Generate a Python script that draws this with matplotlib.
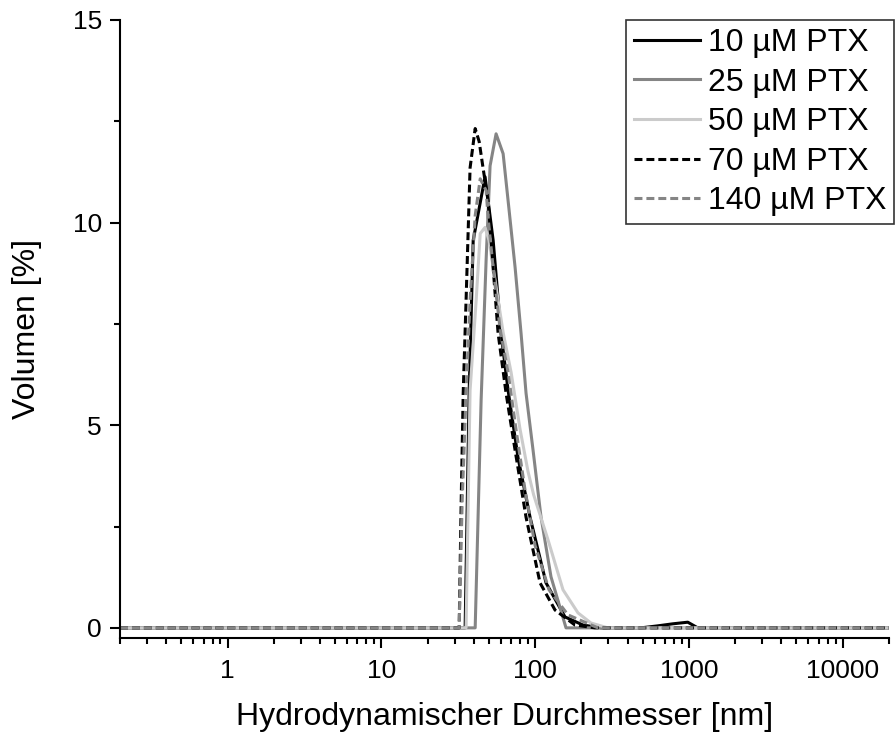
import numpy as np
import matplotlib
matplotlib.use("Agg")
import matplotlib.pyplot as plt
from matplotlib.ticker import FixedLocator, FixedFormatter, LogLocator, NullFormatter, MultipleLocator

plt.rcParams['font.family'] = ['Liberation Sans', 'DejaVu Sans']

# --- data (size in nm, volume in %) ---
d_10 = [0.2, 35.1, 37.3, 39.6, 47.3, 53.4, 60.1, 66.8, 77.6, 92.8, 117.9, 156.6, 205.0, 268.3,
        488, 629, 787, 985, 1144, 20000]
v_10 = [0, 0, 5.86, 9.56, 11.13, 9.56, 7.27, 5.86, 4.19, 2.73, 1.11, 0.27, 0.07, 0,
        0, 0.05, 0.10, 0.14, 0, 0]

d_25 = [0.2, 40.8, 44.6, 48.1, 51.0, 55.8, 62.0, 66.8, 74.2, 81.1, 87.4, 97.1, 109.4, 127.0, 159.0, 20000]
v_25 = [0, 0, 5.62, 9.11, 11.4, 12.19, 11.7, 10.54, 8.89, 7.27, 5.79, 4.38, 2.73, 1.26, 0, 0]

d_50 = [0.2, 35.6, 37.8, 41.4, 44.0, 47.3, 50.2, 55.0, 62.0, 69.9, 79.9, 90.1, 98.0, 121.5,
        152.0, 190.2, 231.0, 297.9, 20000]
v_50 = [0, 0, 5.86, 8.08, 9.73, 9.88, 9.56, 8.57, 7.29, 6.30, 4.90, 3.85, 3.28, 2.17,
        0.94, 0.37, 0.12, 0, 0]

d_70 = [0.2, 32.1, 33.1, 34.1, 35.6, 37.8, 40.8, 43.3, 45.9, 49.5, 53.4, 57.5, 64.8, 74.2,
        87.4, 107.8, 134.9, 181.8, 245.3, 20000]
v_70 = [0, 0, 3.15, 5.79, 8.08, 11.35, 12.32, 12.0, 11.35, 10.54, 8.89, 7.27, 5.79, 4.38,
        2.73, 1.11, 0.44, 0.07, 0, 0]

d_140 = [0.2, 32.1, 33.6, 35.6, 37.8, 40.8, 44.0, 48.1, 49.5, 53.4, 59.3, 66.8, 75.3, 86.1,
         100.0, 123.3, 163.8, 256.6, 20000]
v_140 = [0, 0, 3.15, 5.79, 8.08, 10.17, 11.08, 10.79, 10.12, 8.89, 7.36, 6.30, 4.88, 3.40,
         2.04, 0.94, 0.32, 0, 0]

labels = ['10 µM PTX', '25 µM PTX', '50 µM PTX', '70 µM PTX', '140 µM PTX']

fig = plt.figure(figsize=(8.96, 7.38), dpi=100)
ax = fig.add_axes([0.134, 0.1355, 0.858, 0.8375])

lw = 2.2
ax.plot(d_10, v_10, color='black', lw=lw, label=labels[0])
ax.plot(d_25, v_25, color='#858585', lw=lw, label=labels[1])
ax.plot(d_50, v_50, color='#cbcbcb', lw=lw, label=labels[2])
ax.plot(d_70, v_70, color='black', lw=lw, dashes=(2.6, 1.3), label=labels[3])
ax.plot(d_140, v_140, color='#858585', lw=lw, dashes=(2.6, 1.3), label=labels[4])

ax.set_xscale('log')
ax.set_xlim(0.2, 20000)
ax.set_ylim(-0.25, 15)

ax.xaxis.set_major_locator(FixedLocator([1, 10, 100, 1000, 10000]))
ax.xaxis.set_major_formatter(FixedFormatter(['1', '10', '100', '1000', '10000']))
ax.xaxis.set_minor_locator(LogLocator(base=10, subs=np.arange(2, 10)))
ax.xaxis.set_minor_formatter(NullFormatter())
ax.yaxis.set_major_locator(FixedLocator([0, 5, 10, 15]))
ax.yaxis.set_minor_locator(MultipleLocator(2.5))

for s in ['top', 'right']:
    ax.spines[s].set_visible(False)
for s in ['left', 'bottom']:
    ax.spines[s].set_linewidth(1.5)

ax.tick_params(which='major', direction='out', length=7, width=1.5, labelsize=19, pad=8)
ax.tick_params(which='minor', direction='out', length=4, width=1.5)
ax.tick_params(axis='y', which='major', pad=6)

ax.set_xlabel('Hydrodynamischer Durchmesser [nm]', fontsize=23, labelpad=14)
ax.set_ylabel('Volumen [%]', fontsize=23, labelpad=22)

leg = ax.legend(loc='upper right', bbox_to_anchor=(894 / 896, 1 - 20 / 738),
                bbox_transform=fig.transFigure, fontsize=23, frameon=True, fancybox=False,
                handlelength=2.05, handletextpad=0.25, labelspacing=0.3, borderpad=0.25,
                borderaxespad=0)
leg.get_frame().set_edgecolor('black')
leg.get_frame().set_linewidth(1.2)

fig.savefig('out.png', dpi=100)
